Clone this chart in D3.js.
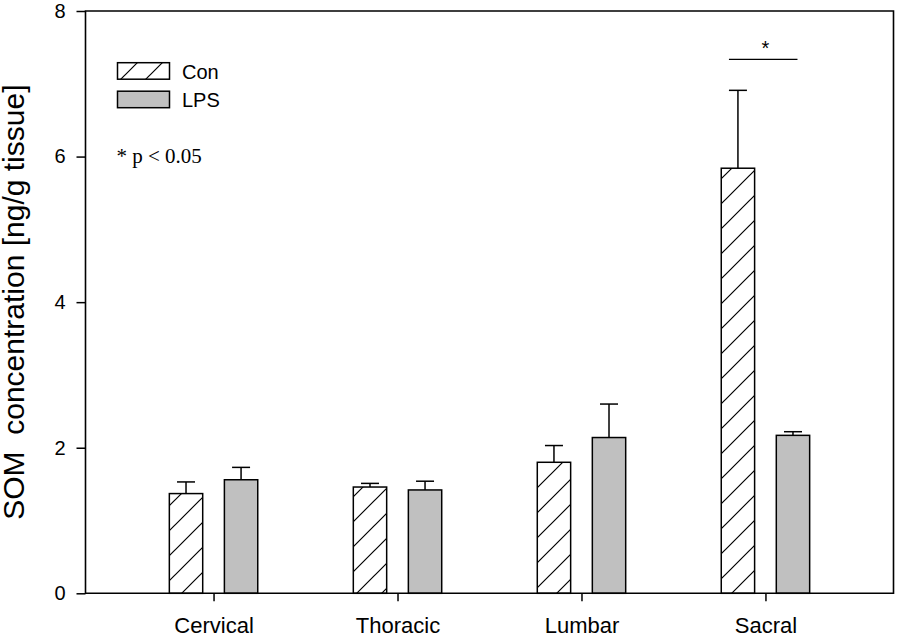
<!DOCTYPE html>
<html>
<head>
<meta charset="utf-8">
<script src="https://cdn.jsdelivr.net/npm/d3@7"></script>
<style>
  html, body { margin: 0; padding: 0; background: #fff; }
  svg { display: block; }
</style>
</head>
<body>
<svg id="chart" width="898" height="636"></svg>
<script>
// ---- data ----
const categories = ["Cervical", "Thoracic", "Lumbar", "Sacral"];
const seriesNames = ["Con", "LPS"];
const conValues = [1.37, 1.46, 1.80, 5.84];
const conErrors = [0.16, 0.05, 0.23, 1.07];
const lpsValues = [1.56, 1.42, 2.14, 2.17];
const lpsErrors = [0.17, 0.12, 0.46, 0.05];
const yTicks = [0, 2, 4, 6, 8];
const yLabel = "SOM  concentration [ng/g tissue]";
const pNote = "* p < 0.05";

(function () {
const rows = [];
categories.forEach((c, i) => {
  rows.push({cat: c, series: "Con", value: conValues[i], err: conErrors[i]});
  rows.push({cat: c, series: "LPS", value: lpsValues[i], err: lpsErrors[i]});
});

const svg = d3.select("#chart");
const pLeft = 85.5, pRight = 893.5, pTop = 11, pBottom = 593.3;

const defs = svg.append("defs");
const pat = defs.append("pattern")
  .attr("id", "hatch")
  .attr("patternUnits", "userSpaceOnUse")
  .attr("width", 25).attr("height", 25);
pat.append("rect").attr("width", 25).attr("height", 25).attr("fill", "#fff");
pat.append("path")
  .attr("d", "M0,25 L25,0 M-5,5 L5,-5 M20,30 L30,20")
  .attr("stroke", "#000").attr("stroke-width", 1.2);

const x0 = d3.scalePoint().domain(categories).range([pLeft, pRight]).padding(0.696);
const x1 = d3.scaleBand().domain(seriesNames).range([-44.2, 44.2]).paddingInner(0.394).paddingOuter(0);
const y = d3.scaleLinear().domain([0, 8]).range([pBottom, pTop]);
const fillFor = s => s === "Con" ? "url(#hatch)" : "#c0c0c0";

// error bars (drawn behind bars)
const capW = 18;
const eb = svg.append("g").attr("stroke", "#000").attr("stroke-width", 1.5);
rows.forEach(d => {
  const cx = x0(d.cat) + x1(d.series) + x1.bandwidth() / 2;
  eb.append("line").attr("x1", cx).attr("x2", cx).attr("y1", y(d.value)).attr("y2", y(d.value + d.err));
  eb.append("line").attr("x1", cx - capW / 2).attr("x2", cx + capW / 2)
    .attr("y1", y(d.value + d.err)).attr("y2", y(d.value + d.err));
});

// bars
svg.append("g").selectAll("rect").data(rows).join("rect")
  .attr("x", d => x0(d.cat) + x1(d.series))
  .attr("y", d => y(d.value))
  .attr("width", x1.bandwidth())
  .attr("height", d => y(0) - y(d.value))
  .attr("fill", d => fillFor(d.series))
  .attr("stroke", "#000").attr("stroke-width", 1.5);

// axes
const yAxis = svg.append("g").attr("transform", `translate(${pLeft},0)`)
  .call(d3.axisLeft(y).tickValues(yTicks).tickSize(9).tickPadding(11).tickFormat(d3.format("d")));
const xAxis = svg.append("g").attr("transform", `translate(0,${pBottom})`)
  .call(d3.axisBottom(x0).tickSize(8).tickPadding(16));
[yAxis, xAxis].forEach(a => {
  a.select(".domain").remove();
  a.selectAll("line").attr("stroke", "#000").attr("stroke-width", 1.5);
});
yAxis.selectAll("text").attr("font-family", "Liberation Sans, Arial, sans-serif").attr("font-size", 20).attr("fill", "#000");
xAxis.selectAll("text").attr("font-family", "Liberation Sans, Arial, sans-serif").attr("font-size", 22).attr("fill", "#000");

// frame
svg.append("path")
  .attr("d", `M${pLeft},${pTop} L${pRight},${pTop} L${pRight},${pBottom} L${pLeft},${pBottom} Z`)
  .attr("fill", "none").attr("stroke", "#000").attr("stroke-width", 1.6);

// y label
svg.append("text")
  .attr("transform", `translate(24,${(pTop + pBottom) / 2}) rotate(-90)`)
  .attr("text-anchor", "middle")
  .attr("font-family", "Liberation Sans, Arial, sans-serif")
  .attr("font-size", 30)
  .style("white-space", "pre")
  .text(yLabel);

// legend
const lg = svg.append("g");
seriesNames.forEach((s, i) => {
  const yy = 62.7 + i * 28.5;
  lg.append("rect").attr("x", 117.5).attr("y", yy).attr("width", 52).attr("height", 16.5)
    .attr("fill", fillFor(s)).attr("stroke", "#000").attr("stroke-width", 1.5);
  lg.append("text").attr("x", 182).attr("y", yy + 16)
    .attr("font-family", "Liberation Sans, Arial, sans-serif").attr("font-size", 20).text(s);
});
svg.append("text").attr("x", 116.5).attr("y", 162.5)
  .attr("font-family", "Liberation Serif, Times New Roman, serif").attr("font-size", 21)
  .style("white-space", "pre").text(pNote);

// significance bracket
const sConX = x0("Sacral") + x1("Con") + x1.bandwidth() / 2;
const sLpsX = x0("Sacral") + x1("LPS") + x1.bandwidth() / 2;
svg.append("line").attr("x1", sConX - 9).attr("x2", sLpsX + 4.5).attr("y1", 59.3).attr("y2", 59.3)
  .attr("stroke", "#000").attr("stroke-width", 1.3);
svg.append("text").attr("x", x0("Sacral")).attr("y", 54.5).attr("text-anchor", "middle")
  .attr("font-family", "Liberation Sans, Arial, sans-serif").attr("font-size", 20).text("*");
})();
</script>
</body>
</html>
